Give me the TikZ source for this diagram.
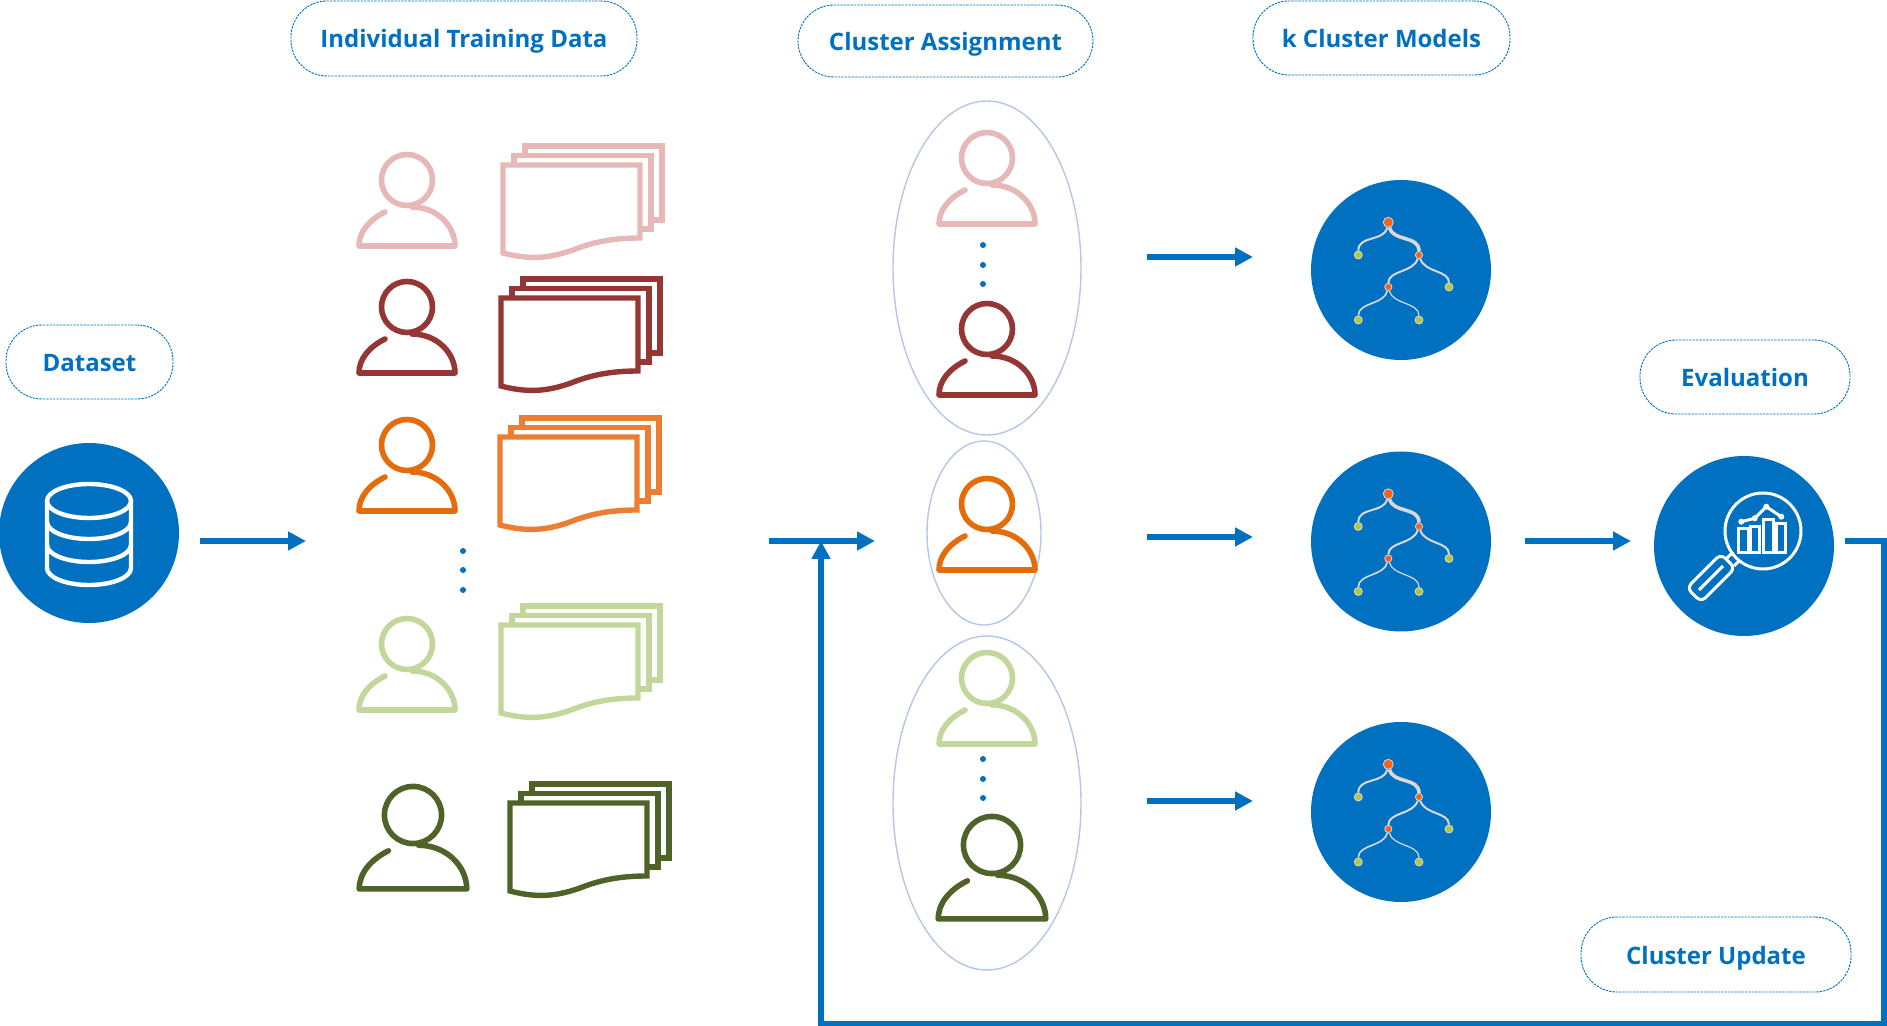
\documentclass[tikz,border=0pt]{standalone}
\usepackage{fontspec}
\setmainfont{Open Sans}
\usetikzlibrary{arrows.meta,calc,positioning,shapes.geometric}
\definecolor{flowBlue}{HTML}{0070C0}
\definecolor{ringBlue}{HTML}{B4C7E7}
\definecolor{rosePink}{HTML}{E6B8B7}
\definecolor{darkRed}{HTML}{943634}
\definecolor{iconOrange}{HTML}{E46C0A}
\definecolor{sheetOrange}{HTML}{ED7D31}
\definecolor{paleGreen}{HTML}{C3D69B}
\definecolor{deepGreen}{HTML}{4F6228}
\definecolor{branchGrey}{HTML}{D9D9D9}
\definecolor{splitOrange}{HTML}{F0641E}
\definecolor{leafGreen}{HTML}{B5C83C}
\tikzset{
    flow/.style={->, flowBlue, line width=3pt},
    pill/.style={draw=flowBlue, dash pattern=on 1.2pt off 0.5pt, line width=0.45pt, rounded corners=18pt, inner sep=0pt,
        text=flowBlue, text height=9.5pt, text depth=0pt, font=\fontsize{12}{14}\selectfont\bfseries},
    disc/.style={circle, fill=flowBlue, inner sep=0pt, minimum size=90pt},
    ring/.style={draw=ringBlue, line width=0.7pt},
    dotmark/.style={circle, fill=flowBlue, inner sep=0pt, minimum size=3pt},
    splitnode/.style={circle, fill=splitOrange, draw=branchGrey, line width=0.4pt, inner sep=0pt, minimum size=3.6pt},
    leafnode/.style={circle, fill=leafGreen, draw=branchGrey, line width=0.4pt, inner sep=0pt, minimum size=4pt},
    person/.pic={
        \draw[#1, line width=2.8pt] (0,0) circle (25.5);
        \draw[#1, line width=2.8pt, line cap=round, line join=round] (-22,32) .. controls (-38,40) and (-48,52) .. (-48,66)
            -- (48,66) .. controls (48,46) and (30,27) .. (5,27);
    },
    sheets/.pic={
        \draw[#1, line width=2.7pt] (0,0) -- (137,0) -- (137,73) .. controls (110,73) and (90,77) .. (70,85)
            .. controls (50,92) and (30,96) .. (0,88) -- cycle;
        \draw[#1, line width=2.7pt] (11,0) -- (11,-9.5) -- (148,-9.5) -- (148,64) -- (137,64);
        \draw[#1, line width=2.7pt] (22,-9.5) -- (22,-19) -- (159,-19) -- (159,55) -- (148,55);
    },
    cluster tree/.pic={
        \node[splitnode, minimum size=5pt] (-root) at (-12.7,-47.7) {};
        \node[leafnode] (-a) at (-42.7,-15) {};
        \node[splitnode] (-b) at (18,-15) {};
        \node[leafnode] (-c) at (48,17) {};
        \node[splitnode] (-d) at (-12.7,17) {};
        \node[leafnode] (-e) at (-42.7,50) {};
        \node[leafnode] (-f) at (18,50) {};
        \draw[branchGrey, line width=1pt] (-root) .. controls (-17,-28) and (-42.7,-35) .. (-a);
        \draw[branchGrey, line width=1.8pt] (-root) .. controls (-8,-28) and (18,-35) .. (-b);
        \draw[branchGrey, line width=1pt] (-b) .. controls (12,3) and (-12.7,0) .. (-d);
        \draw[branchGrey, line width=1pt] (-b) .. controls (24,3) and (48,0) .. (-c);
        \draw[branchGrey, line width=0.8pt] (-d) .. controls (-17,35) and (-42.7,32) .. (-e);
        \draw[branchGrey, line width=0.6pt] (-d) .. controls (-8,35) and (18,32) .. (-f);
    }
}
\begin{document}
\begin{tikzpicture}[x=0.5pt, y=-0.5pt, >={Triangle[length=9pt,width=9pt]}]
    \useasboundingbox (0,0) rectangle (1887,1026);

    % labels
    \node[pill, minimum width=83.5pt, minimum height=37pt] (datasetLabel) at (89.5,362) {Dataset};
    \node[pill, minimum width=173pt, minimum height=37.5pt] (trainLabel) at (464,38.5) {Individual Training Data};
    \node[pill, minimum width=147.5pt, minimum height=36pt] (assignLabel) at (945.5,41) {Cluster Assignment};
    \node[pill, minimum width=128.5pt, minimum height=37pt] (modelsLabel) at (1381.5,38) {k Cluster Models};
    \node[pill, minimum width=105pt, minimum height=37pt] (evalLabel) at (1745,377) {Evaluation};
    \node[pill, minimum width=135pt, minimum height=37.5pt] (updateLabel) at (1716,954.5) {Cluster Update};

    % dataset disc with the stacked cylinder
    \node[disc] (dataset) at (89,533) {};
    \begin{scope}[shift={(dataset.center)}, white, line width=2.2pt]
        \draw (0,-32) ellipse (42 and 17);
        \draw (-42,-32) -- (-42,35) arc[start angle=180, end angle=0, x radius=42, y radius=17] -- (42,-32);
        \draw (-42,-11) arc[start angle=180, end angle=0, x radius=42, y radius=17];
        \draw (-42,12) arc[start angle=180, end angle=0, x radius=42, y radius=17];
    \end{scope}

    % people and their data
    \pic at (407,180) {person=rosePink};
    \pic at (407,307) {person=darkRed};
    \pic at (407,445) {person=iconOrange};
    \pic at (407,644) {person=paleGreen};
    \pic[scale=1.12] at (413,815) {person=deepGreen};
    \pic at (503,165) {sheets=rosePink};
    \pic at (501,298) {sheets=darkRed};
    \pic at (500,437) {sheets=sheetOrange};
    \pic at (501,625) {sheets=paleGreen};
    \pic at (510,803) {sheets=deepGreen};
    \foreach \y [count=\i] in {551,570,590}
        \node[dotmark] (dotL\i) at (463,\y) {};

    % clusters
    \node[ring, ellipse, minimum width=94pt, minimum height=167pt, inner sep=0pt] (clusterA) at (987,268) {};
    \node[ring, ellipse, minimum width=57pt, minimum height=92pt, inner sep=0pt] (clusterB) at (984,533) {};
    \node[ring, ellipse, minimum width=94pt, minimum height=167pt, inner sep=0pt] (clusterC) at (987,803) {};
    \pic at (987,158) {person=rosePink};
    \pic at (987,329) {person=darkRed};
    \pic at (987,504) {person=iconOrange};
    \pic at (987,678) {person=paleGreen};
    \pic[scale=1.12] at (992,845) {person=deepGreen};
    \foreach \y [count=\i] in {245,265,284}
        \node[dotmark] (dotA\i) at (983,\y) {};
    \foreach \y [count=\i] in {759,779,798}
        \node[dotmark] (dotC\i) at (983,\y) {};

    % cluster models
    \foreach \y [count=\i] in {270,541.5,812} {
        \node[disc] (model\i) at (1401,\y) {};
        \pic (tree\i) at (model\i.center) {cluster tree};
    }

    % evaluation disc with the magnifier
    \node[disc] (evaluation) at (1744,546) {};
    \begin{scope}[shift={(evaluation.center)}, white, line width=1.5pt]
        \draw (19,-15) circle (38);
        \draw[rounded corners=3pt, rotate around={45:(-33,32)}] (-57,22) rectangle (-9,42);
        \draw (-45,44) -- (-21,20);
        \draw (-17,12) -- (-11,6) (-10,20) -- (-4,14);
        \foreach \xa/\xb/\ytop in {-5.3/4/-17.7, 6.3/15.7/-19.3, 19/29/-26.7, 32.3/41.3/-22}
            \draw (\xa,6.3) rectangle (\xb,\ytop);
        \draw (-2.7,-24.3) -- (10.7,-27.7) -- (22.3,-39.3) -- (37.3,-29.3);
        \foreach \px/\py in {-2.7/-24.3, 10.7/-27.7, 22.3/-39.3, 37.3/-29.3}
            \fill (\px,\py) circle (3);
    \end{scope}

    % flow between the stages
    \coordinate (dataOut) at (200,541);
    \coordinate (dataIn) at (306,541);
    \coordinate (assignOut) at (769,541);
    \coordinate (assignIn) at (875,541);
    \coordinate (toModelA) at (1147,257);
    \coordinate (atModelA) at (1253,257);
    \coordinate (toModelB) at (1147,537);
    \coordinate (atModelB) at (1253,537);
    \coordinate (toModelC) at (1147,801);
    \coordinate (atModelC) at (1253,801);
    \coordinate (modelOut) at (1525,541);
    \coordinate (evalIn) at (1631,541);
    \coordinate (evalOut) at (1845,541);
    \coordinate (rightTurn) at (1884,541);
    \coordinate (cornerR) at (1884,1024);
    \coordinate (cornerL) at (821,1024);
    \coordinate (backIn) at (821,541);

    \draw[flow] (dataOut) -- (dataIn);
    \draw[flow] (assignOut) -- (assignIn);
    \draw[flow] (toModelA) -- (atModelA);
    \draw[flow] (toModelB) -- (atModelB);
    \draw[flow] (toModelC) -- (atModelC);
    \draw[flow] (modelOut) -- (evalIn);
    \draw[flow] (evalOut) -- (rightTurn) -- (cornerR) -- (cornerL) -- (backIn);
\end{tikzpicture}
\end{document}
